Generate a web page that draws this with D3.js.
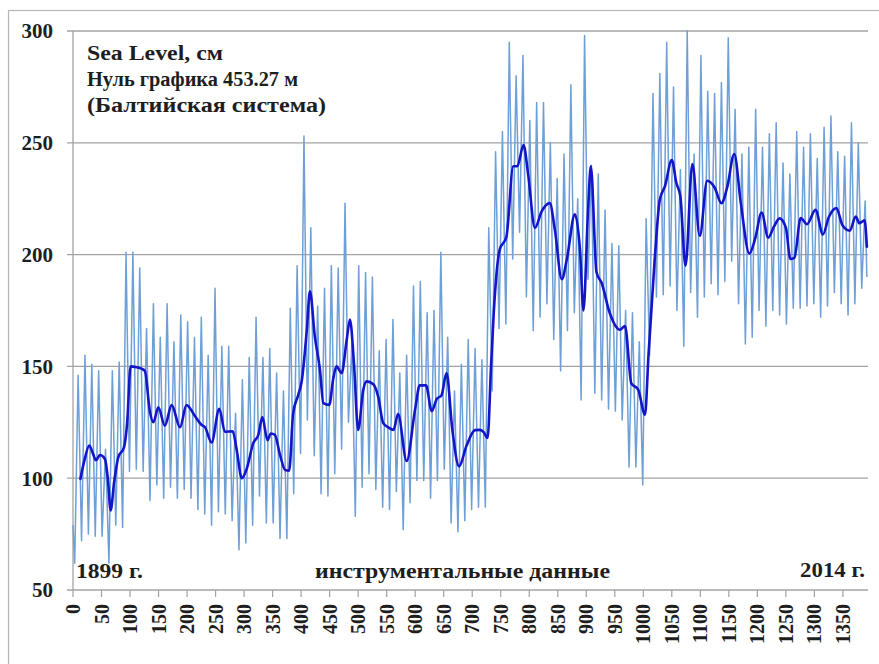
<!DOCTYPE html>
<html><head><meta charset="utf-8">
<script src="https://cdn.jsdelivr.net/npm/d3@7"></script>
<style>body{margin:0;background:#fff}svg{display:block}</style>
</head><body>
<svg id="chart" width="879" height="664"></svg>
<script>
// ---------- data ----------
const yTickLabels = [50, 100, 150, 200, 250, 300];
const xTickLabels = [0,50,100,150,200,250,300,350,400,450,500,550,600,650,700,750,800,850,900,950,1000,1050,1100,1150,1200,1250,1300,1350];

// monthly record 1899–2014: annual low (≈April) and annual high (≈October), cm
const troughMonth = 3, peakMonth = 9;
const startValue = 79, endValue = 190;
const annualMin = [62,72,75,74,74,62,79,78,103,104,103,90,97,91,96,91,95,91,86,84,
  79,85,84,81,68,71,79,92,80,80,73,73,93,111,126,110,93,92,102,113,
  125,83,96,102,95,87,86,94,77,89,99,99,91,99,104,80,76,81,86,87,
  87,139,167,169,198,210,181,166,172,178,162,148,166,174,135,189,138,135,131,130,
  126,105,105,97,155,181,182,186,175,159,183,172,181,187,182,188,197,178,160,163,
  175,168,175,173,169,176,176,177,178,172,177,183,178,173,178,185];
const annualMax = [146,155,151,148,113,148,152,201,201,194,167,178,163,178,161,173,170,163,172,155,
  185,159,159,129,144,154,172,154,158,147,139,176,195,253,212,177,185,195,194,223,
  160,195,192,190,157,162,171,147,155,186,188,174,175,201,163,139,151,162,158,153,
  212,246,255,295,280,289,260,268,268,250,234,245,276,225,298,240,236,220,205,204,
  175,174,161,216,272,281,295,275,238,300,245,289,273,272,277,297,265,245,248,265,
  248,254,259,241,236,255,248,254,243,257,262,246,244,259,250,224];

// smoothed level (month index, cm)
const smoothMonth = [13,20,28.6,35,40.3,47.3,56,61,66,72,79.5,89.4,95,101,111.6,120,126,135,141,149.6,
  161,173,187.6,199,214,225.6,231.5,243,256.5,266.5,280,287,296,305,316,325,332,341,347,354,
  363,372,379,386,395,401,410,415.5,424,433,439,449.4,456,462,471,480,485.6,492.6,500,509,
  515,526.6,535,544,553,562,570,585,600,608,619,629,638,646,655,665,677,690,705,714,
  720,727,733,738,748,760,772,779,790,798,810,822,836,845,857,866,880,889,895,903,
  908,918,927,941,959,968,979,991,1003,1009,1020,1029,1038,1050,1058,1065,1074,1086,1099,1112,
  1125,1137,1147,1159.5,1171,1186,1196,1207.5,1219,1229,1239,1250,1258,1265,1276,1287,1302,1315,1325,1338.5,
  1349.5,1362,1372.5,1379,1388,1392];
const smoothValue = [99.7,108,114.6,111,108,110.4,108.6,100,85.6,98,109.4,113.8,125,150,149.6,149,148,129.5,125,131.7,
  123.5,132.7,122.8,132.7,127.7,123.8,122.8,116,131,120.7,121,112.7,100,104.5,115.7,119.4,127.3,117,120,119.4,
  110.4,103.7,103.4,129,137.3,143.3,166.4,183.6,163.4,148.5,133.6,132.8,144,150,147,162,171,151.5,121.6,139.6,
  143.3,142,136.6,124.6,122.7,121.6,128.7,107.7,131,141.5,141.5,130,135.5,137,147,122,105.3,114.5,121.5,121.6,
  120.6,118,150,175,202,208,239.5,239.5,249,236,212,219.4,223,211,189,198,218,202,175,219,
  239.5,192,187.3,174,166.4,168,142.4,139.6,128.4,154.5,198,224.6,230.6,242.3,232,226,195,240.5,208.4,233,
  230,223,230,245,223,200.5,207,218.8,207.6,212.5,216.2,212,198,198.6,216.4,213.6,220,209,216.6,220.8,
  213,210.7,217,214,215.3,203.5];

// ---------- drawing ----------
const svg = d3.select('#chart');
const W = 879, H = 664;
const x = d3.scaleLinear().domain([0, 1394]).range([73, 868]);
const y = d3.scaleLinear().domain([50, 300]).range([590, 31]);
const serif = "'Liberation Serif','Times New Roman',serif";
const ink = '#1e1e1e';

svg.append('rect').attr('width', W).attr('height', H).attr('fill', '#fff');
// outer chart frame
svg.append('rect').attr('x', 8.5).attr('y', 10.5).attr('width', 900).attr('height', 700)
  .attr('fill', 'none').attr('stroke', '#b5b5b5').attr('stroke-width', 1.2);

// horizontal gridlines (+ left tick stubs)
svg.append('g').selectAll('line').data(yTickLabels).join('line')
  .attr('x1', 67).attr('x2', x.range()[1])
  .attr('y1', d => y(d)).attr('y2', d => y(d))
  .attr('stroke', '#a3a3a3').attr('stroke-width', 1.3);
// left axis line
svg.append('line').attr('x1', 73).attr('x2', 73).attr('y1', y(300)).attr('y2', y(50))
  .attr('stroke', '#a3a3a3').attr('stroke-width', 1.3);
// bottom ticks
svg.append('g').selectAll('line').data(xTickLabels).join('line')
  .attr('x1', d => x(d)).attr('x2', d => x(d)).attr('y1', y(50)).attr('y2', y(50) + 7)
  .attr('stroke', '#a3a3a3').attr('stroke-width', 1.2);

// y labels
svg.append('g').selectAll('text').data(yTickLabels).join('text')
  .attr('x', 53).attr('y', d => y(d)).attr('dy', '0.35em')
  .attr('text-anchor', 'end').attr('font-family', serif).attr('font-weight', 'bold')
  .attr('font-size', 21).attr('fill', ink).text(d => d);

// x labels (rotated)
svg.append('g').selectAll('text').data(xTickLabels).join('text')
  .attr('transform', d => `translate(${x(d)},${y(50) + 14}) rotate(-90)`)
  .attr('dy', '0.35em').attr('text-anchor', 'end')
  .attr('font-family', serif).attr('font-weight', 'bold').attr('font-size', 20)
  .attr('fill', ink).text(d => d);

// monthly series (annual low / high)
const monthly = [{m: 0, v: startValue}];
annualMin.forEach((lo, k) => {
  monthly.push({m: 12 * k + troughMonth, v: lo});
  monthly.push({m: 12 * k + peakMonth, v: annualMax[k]});
});
monthly.push({m: 1392, v: endValue});

svg.append('path').datum(monthly)
  .attr('fill', 'none').attr('stroke', '#6e9fd6').attr('stroke-width', 1.5)
  .attr('stroke-linejoin', 'round')
  .attr('d', d3.line().x(d => x(d.m)).y(d => y(d.v)));

// smoothed series
const smooth = smoothMonth.map((m, i) => ({m, v: smoothValue[i]}));
svg.append('path').datum(smooth)
  .attr('fill', 'none').attr('stroke', '#1414c8').attr('stroke-width', 2.6)
  .attr('stroke-linejoin', 'round').attr('stroke-linecap', 'round')
  .attr('d', d3.line().curve(d3.curveMonotoneX).x(d => x(d.m)).y(d => y(d.v)));

// annotations
const notes = [
  {t: 'Sea Level, см', x: 87, y: 60, len: 136},
  {t: 'Нуль графика 453.27 м', x: 87, y: 86, len: 211},
  {t: '(Балтийская  система)', x: 87, y: 112, len: 239},
  {t: '1899 г.', x: 76, y: 578, len: 67},
  {t: 'инструментальные  данные', x: 315, y: 578, len: 295},
  {t: '2014 г.', x: 800, y: 577, len: 65}
];
svg.append('g').selectAll('text').data(notes).join('text')
  .attr('x', d => d.x).attr('y', d => d.y)
  .attr('font-family', serif).attr('font-weight', 'bold').attr('font-size', 20)
  .attr('fill', ink).attr('textLength', d => d.len).attr('lengthAdjust', 'spacingAndGlyphs')
  .text(d => d.t);
</script>
</body></html>
